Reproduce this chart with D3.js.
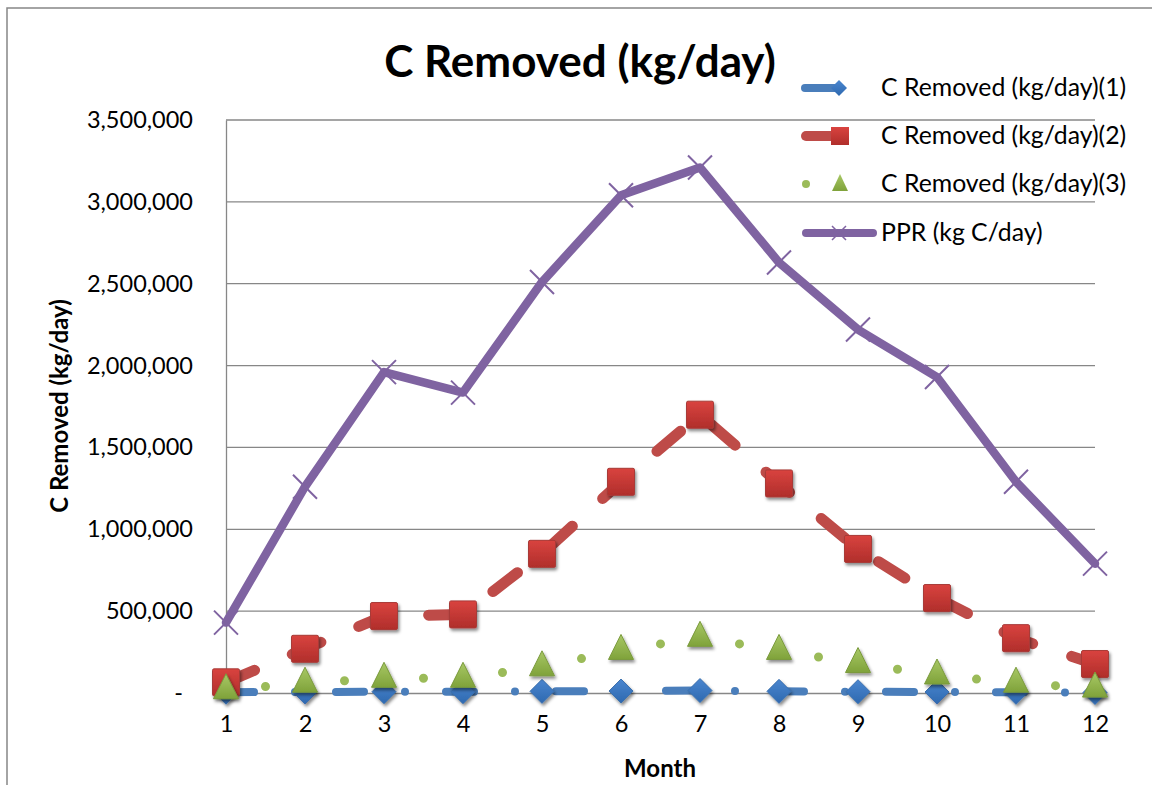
<!DOCTYPE html>
<html>
<head>
<meta charset="utf-8">
<script src="https://cdn.jsdelivr.net/npm/d3@7"></script>
<style>
  body { margin: 0; background: #fff; }
  text { font-family: Lato, "Open Sans", sans-serif; fill: #000; }
</style>
</head>
<body>
<div id="app"></div>
<script>
// data
const months = [1, 2, 3, 4, 5, 6, 7, 8, 9, 10, 11, 12]
const removed1 = [5000, 6000, 8000, 8000, 10000, 12000, 15000, 10000, 8000, 6000, 4000, 3000]
const removed2 = [65000, 270000, 470000, 480000, 850000, 1290000, 1700000, 1280000, 880000, 580000, 335000, 177000]
const removed3 = [20000, 60000, 90000, 90000, 160000, 260000, 340000, 260000, 180000, 110000, 60000, 30000]
const ppr = [430000, 1260000, 1960000, 1835000, 2510000, 3040000, 3210000, 2630000, 2220000, 1930000, 1290000, 790000]
const yTicks = [0, 500000, 1000000, 1500000, 2000000, 2500000, 3000000, 3500000]
const legendNames = ['C Removed (kg/day)(1)', 'C Removed (kg/day)(2)', 'C Removed (kg/day)(3)', 'PPR (kg C/day)']

const W = 1152, H = 785
const svg = d3.select('#app').append('svg').attr('width', W).attr('height', H)

const defs = svg.append('defs')
const shadow = defs.append('filter').attr('id', 'shadow')
  .attr('x', '-50%').attr('y', '-50%').attr('width', '200%').attr('height', '200%')
shadow.append('feDropShadow').attr('dx', 1.5).attr('dy', 2.5).attr('stdDeviation', 1.5)
  .attr('flood-color', '#000').attr('flood-opacity', 0.45)

const grad = (id, top, bottom) => {
  const g = defs.append('linearGradient').attr('id', id).attr('x1', 0).attr('y1', 0).attr('x2', 0).attr('y2', 1)
  g.append('stop').attr('offset', '0%').attr('stop-color', top)
  g.append('stop').attr('offset', '100%').attr('stop-color', bottom)
}
grad('gBlue', '#4a86cf', '#2e69b0')
grad('gRed', '#d9433f', '#b02e2b')
grad('gGreen', '#a8c865', '#7fa23a')

// outer chart frame
svg.append('rect').attr('x', 7).attr('y', 8).attr('width', 1160).attr('height', 800)
  .attr('fill', 'none').attr('stroke', '#878787').attr('stroke-width', 1.5)

const x = d3.scalePoint().domain(months).range([226, 1095])
const y = d3.scaleLinear().domain([0, 3500000]).range([693, 120])

// gridlines
svg.append('g').selectAll('line').data(yTicks.slice(1)).join('line')
  .attr('x1', 226).attr('x2', 1095)
  .attr('y1', d => y(d)).attr('y2', d => y(d))
  .attr('stroke', '#878787').attr('stroke-width', 1.3)

// y axis
const yAxis = svg.append('g').attr('transform', 'translate(226,0)')
  .call(d3.axisLeft(y).tickValues(yTicks).tickSize(0).tickPadding(33)
    .tickFormat(d => d === 0 ? '-' : d3.format(',')(d)))
yAxis.select('.domain').attr('stroke', '#878787').attr('stroke-width', 1.3)
yAxis.selectAll('text').attr('font-size', 23.5).attr('font-family', 'Lato, sans-serif').attr('fill', '#000')
yAxis.selectAll('.tick').filter(d => d === 0).select('text').attr('dx', -10)

// x axis
const xAxis = svg.append('g').attr('transform', 'translate(0,693)')
  .call(d3.axisBottom(x).tickSize(0).tickPadding(22))
xAxis.select('.domain').attr('stroke', '#878787').attr('stroke-width', 1.3)
xAxis.selectAll('text').attr('font-size', 23.5).attr('font-family', 'Lato, sans-serif').attr('fill', '#000')

// titles
svg.append('text').attr('x', 580).attr('y', 77).attr('text-anchor', 'middle')
  .attr('font-size', 44).attr('font-weight', 'bold').text('C Removed (kg/day)')
svg.append('text').attr('x', 660).attr('y', 777).attr('text-anchor', 'middle')
  .attr('font-size', 24).attr('font-weight', 'bold').text('Month')
svg.append('text').attr('transform', 'translate(68,406) rotate(-90)').attr('text-anchor', 'middle')
  .attr('font-size', 24).attr('font-weight', 'bold').text('C Removed (kg/day)')

// marker shapes
const diamond = (g, cx, cy) => g.append('path')
  .attr('d', `M${cx},${cy - 12}L${cx + 12},${cy}L${cx},${cy + 12}L${cx - 12},${cy}Z`)
  .attr('fill', 'url(#gBlue)').attr('stroke', '#3a6fae').attr('stroke-width', 1).attr('filter', 'url(#shadow)')
const square = (g, cx, cy) => g.append('rect')
  .attr('x', cx - 13.5).attr('y', cy - 13.5).attr('width', 27).attr('height', 27).attr('rx', 1.5)
  .attr('fill', 'url(#gRed)').attr('stroke', '#a83a37').attr('stroke-width', 1).attr('filter', 'url(#shadow)')
const triangle = (g, cx, cy) => g.append('path')
  .attr('d', `M${cx},${cy - 16}L${cx + 12.5},${cy + 9}L${cx - 12.5},${cy + 9}Z`)
  .attr('fill', 'url(#gGreen)').attr('stroke', '#7a9a3c').attr('stroke-width', 1).attr('stroke-linejoin', 'round')
  .attr('filter', 'url(#shadow)')
const cross = (g, cx, cy) => g.append('path')
  .attr('d', `M${cx - 12},${cy - 12}L${cx + 12},${cy + 12}M${cx + 12},${cy - 12}L${cx - 12},${cy + 12}`)
  .attr('stroke', '#7f63a1').attr('stroke-width', 2).attr('fill', 'none')

const line = d3.line().x((d, i) => x(months[i])).y(d => y(d))

// series 1: long dash dot, blue diamonds
const s1 = svg.append('g')
s1.append('path').attr('d', line(removed1)).attr('fill', 'none')
  .attr('stroke', '#4a7ebb').attr('stroke-width', 8).attr('stroke-linecap', 'round')
  .attr('stroke-dasharray', '28,41,0,41')
removed1.forEach((v, i) => diamond(s1, x(months[i]), y(v)))

// series 2: dashed, red squares
const s2 = svg.append('g')
s2.append('path').attr('d', line(removed2)).attr('fill', 'none')
  .attr('stroke', '#be4b48').attr('stroke-width', 11).attr('stroke-linecap', 'round')
  .attr('stroke-dasharray', '31,41')
removed2.forEach((v, i) => square(s2, x(months[i]), y(v)))

// series 3: round dots, green triangles
const s3 = svg.append('g')
d3.pairs(removed3.map((v, i) => [x(months[i]), y(v)])).forEach(([a, b]) => {
  const len = Math.hypot(b[0] - a[0], b[1] - a[1])
  s3.append('line').attr('x1', a[0]).attr('y1', a[1]).attr('x2', b[0]).attr('y2', b[1])
    .attr('stroke', '#9bbb59').attr('stroke-width', 9).attr('stroke-linecap', 'round')
    .attr('stroke-dasharray', `0,${len / 2}`)
})
removed3.forEach((v, i) => triangle(s3, x(months[i]), y(v)))

// PPR: solid purple with crosses
const s4 = svg.append('g')
s4.append('path').attr('d', line(ppr)).attr('fill', 'none')
  .attr('stroke', '#7f63a1').attr('stroke-width', 8.5).attr('stroke-linejoin', 'round').attr('stroke-linecap', 'round')
ppr.forEach((v, i) => cross(s4, x(months[i]), y(v)))

// legend
const legend = svg.append('g')
const rowY = [88, 136, 184, 233]
legendNames.forEach((name, i) => {
  const ly = rowY[i]
  const g = legend.append('g')
  if (i === 0) {
    g.append('line').attr('x1', 805).attr('x2', 836).attr('y1', ly).attr('y2', ly)
      .attr('stroke', '#4a7ebb').attr('stroke-width', 8).attr('stroke-linecap', 'round')
    g.append('path').attr('d', `M839,${ly - 8}L847,${ly}L839,${ly + 8}L831,${ly}Z`).attr('fill', 'url(#gBlue)')
  } else if (i === 1) {
    g.append('line').attr('x1', 806).attr('x2', 836).attr('y1', ly).attr('y2', ly)
      .attr('stroke', '#be4b48').attr('stroke-width', 10).attr('stroke-linecap', 'round')
    g.append('rect').attr('x', 831).attr('y', ly - 9).attr('width', 18).attr('height', 18).attr('fill', 'url(#gRed)')
  } else if (i === 2) {
    g.append('circle').attr('cx', 806).attr('cy', ly).attr('r', 4).attr('fill', '#9bbb59')
    g.append('path').attr('d', `M840,${ly - 10}L848,${ly + 7}L832,${ly + 7}Z`).attr('fill', 'url(#gGreen)')
  } else {
    g.append('line').attr('x1', 806).attr('x2', 873).attr('y1', ly).attr('y2', ly)
      .attr('stroke', '#7f63a1').attr('stroke-width', 8).attr('stroke-linecap', 'round')
    g.append('path').attr('d', `M832,${ly - 7}L846,${ly + 7}M846,${ly - 7}L832,${ly + 7}`)
      .attr('stroke', '#7f63a1').attr('stroke-width', 1.5)
  }
  g.append('text').attr('x', 881).attr('y', ly + 8).attr('font-size', 24.8).text(name)
})
</script>
</body>
</html>
